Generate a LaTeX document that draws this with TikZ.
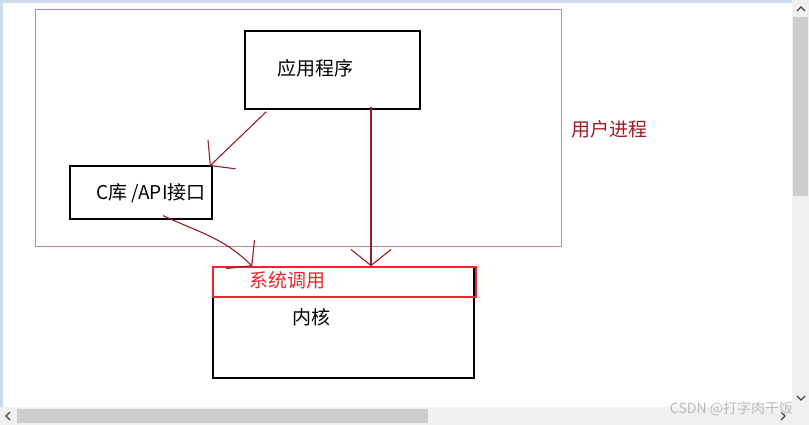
\documentclass[tikz,border=0pt]{standalone}
\usepackage{fontspec}
\setmainfont{Noto Sans CJK SC}
\usepackage{tikz}
\usetikzlibrary{arrows.meta,positioning}
\definecolor{frameRed}{RGB}{205,135,148}
\definecolor{arrowRed}{RGB}{150,28,38}
\definecolor{labelRed}{RGB}{160,24,34}
\definecolor{callRed}{RGB}{236,36,46}
\definecolor{barTrack}{RGB}{240,240,240}
\definecolor{barThumb}{RGB}{205,205,205}
\definecolor{edgeBlue}{RGB}{205,218,236}
\definecolor{markGray}{RGB}{185,185,185}
\tikzstyle{recNode} = [rectangle, draw=black, line width=1.6pt, inner sep=0pt]
\tikzstyle{callNode} = [rectangle, draw=callRed, line width=1.6pt, inner sep=0pt]
\tikzstyle{frameNode} = [rectangle, draw=frameRed, line width=0.8pt, inner sep=0pt]
\tikzstyle{arrowR} = [line width=1.1pt, draw=arrowRed, -{Straight Barb[length=16pt,width=40pt,line width=1.1pt]}]
\tikzstyle{chevron} = [line width=1.2pt, draw=black!75]
\newcommand{\bigtext}{\fontsize{19pt}{22pt}\selectfont}

\begin{document}
\begin{tikzpicture}[x=1pt,y=-1pt]
    \useasboundingbox (0,0) rectangle (809,425);
    % window edges and scroll bars
    \fill[edgeBlue] (0,0) rectangle (792,3);
    \fill[edgeBlue] (0,0) rectangle (3,407);
    \fill[barTrack] (792,0) rectangle (809,425);
    \fill[barTrack] (0,407) rectangle (809,425);
    \fill[barThumb] (793,17) rectangle (808,196);
    \fill[barThumb] (17,409) rectangle (428,423);
    \draw[chevron] (797,11) -- (801,7) -- (805,11);
    \draw[chevron] (797,396) -- (801,400) -- (805,396);
    \draw[chevron] (10,412) -- (6,416) -- (10,420);
    \draw[chevron] (781,412) -- (785,416) -- (781,420);

    \node (user) [frameNode, minimum width=526pt, minimum height=237pt] at (298,127.5) {};
    \node (userText) [right=7pt of user, yshift=-1.5pt, text=labelRed] {\bigtext 用户进程};

    \node (app) [recNode, minimum width=175pt, minimum height=78pt,
        label={[anchor=center, xshift=-17pt, yshift=2pt]center:\bigtext 应用程序}] at (332.5,70) {};
    \node (clib) [recNode, minimum width=142pt, minimum height=53pt,
        label={[anchor=center, xshift=10pt, yshift=-1pt]center:\bigtext C库 /API接口}] at (141,192.3) {};
    \node (kernel) [recNode, minimum width=261pt, minimum height=111pt,
        label={[anchor=center, xshift=-32.5pt, yshift=5pt]center:\bigtext 内核}] at (343.5,322.5) {};
    \node (syscall) [callNode, minimum width=263pt, minimum height=30pt,
        label={[anchor=center, xshift=-57pt, yshift=2pt, text=callRed]center:\bigtext 系统调用}] at (344.5,282) {};

    \coordinate (appOut) at ([xshift=38.5pt, yshift=3pt]app.south);
    \draw [arrowR] ([xshift=22pt, yshift=-2pt]app.south west) -- ([xshift=-3pt, yshift=-1pt]clib.north east);
    \draw [arrowR] (appOut) -- (appOut |- syscall.north);
    \draw [arrowR] ([xshift=22pt, yshift=4pt]clib.south) to[out=-25, in=135] ([xshift=40pt]syscall.north west);

    \node (mark) [text=markGray] at (731.5,409) {\fontsize{14pt}{16pt}\selectfont CSDN @打字肉干饭};
\end{tikzpicture}
\end{document}
